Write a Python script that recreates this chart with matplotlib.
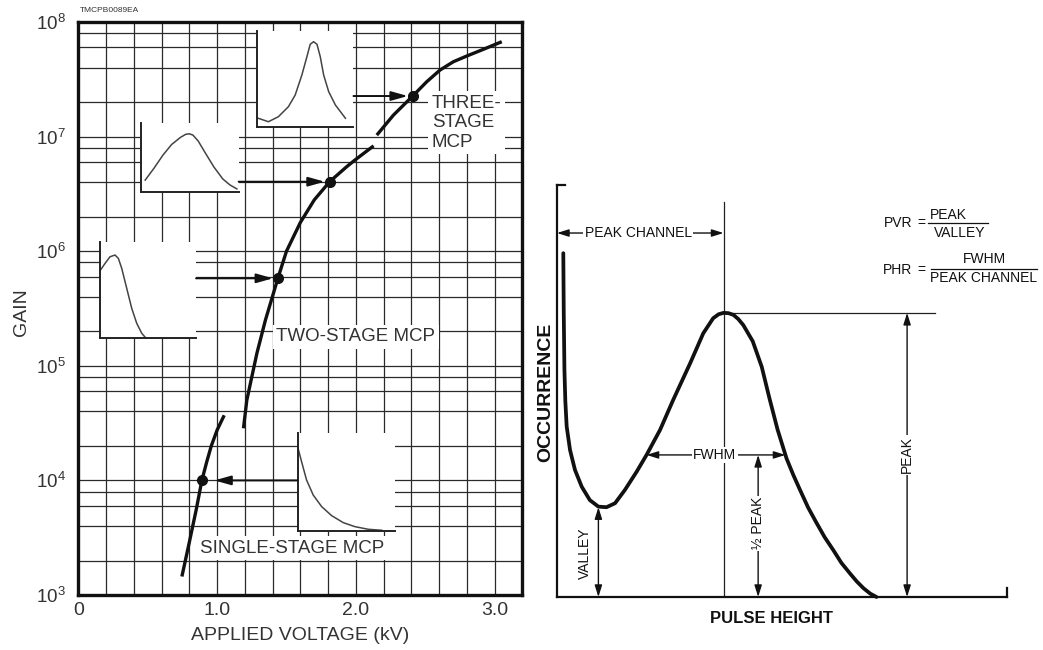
import numpy as np
import matplotlib
matplotlib.use("Agg")
import matplotlib.pyplot as plt
from matplotlib.ticker import FixedLocator, LogLocator, NullFormatter, FuncFormatter

plt.rcParams['font.family'] = ['Liberation Sans', 'DejaVu Sans']
plt.rcParams['mathtext.fontset'] = 'custom'
plt.rcParams['mathtext.rm'] = 'Liberation Sans'

INK = '#111111'
GREY_TXT = '#333333'

# ---------------- gain vs applied voltage ----------------
single_kv = [0.746, 0.80, 0.85, 0.89, 0.925, 0.958, 1.0, 1.051]
single_gain = [1.45e3, 2.9e3, 5.6e3, 1.0e4, 1.45e4, 2.0e4, 2.75e4, 3.7e4]

two_kv = [1.19, 1.214, 1.25, 1.287, 1.348, 1.438, 1.50, 1.60, 1.70, 1.811,
          1.934, 1.994, 2.128]
two_gain = [2.85e4, 5.0e4, 8.0e4, 1.29e5, 2.5e5, 5.8e5, 1.0e6, 1.78e6, 2.8e6,
            4.04e6, 5.46e6, 6.25e6, 8.3e6]

three_kv = [2.151, 2.271, 2.41, 2.511, 2.607, 2.703, 2.80, 2.92, 3.052]
three_gain = [1.03e7, 1.54e7, 2.26e7, 3.01e7, 3.81e7, 4.5e7, 5.05e7, 5.78e7, 6.73e7]

# operating points marked with dots (single, two-stage low, two-stage high, three)
op_kv = [0.89, 1.438, 1.811, 2.41]
op_gain = [1.0e4, 5.8e5, 4.04e6, 2.26e7]

x_ticks = [0, 1, 2, 3]
x_tick_labels = ['0', '1.0', '2.0', '3.0']

# small pulse-height distribution sketches (normalised to their frames)
sketch_three_x = [0.017, 0.121, 0.224, 0.328, 0.398, 0.467, 0.519, 0.553, 0.588,
                  0.623, 0.657, 0.692, 0.744, 0.813, 0.917]
sketch_three_y = [0.088, 0.052, 0.104, 0.209, 0.331, 0.54, 0.731, 0.861, 0.888,
                  0.861, 0.731, 0.54, 0.366, 0.227, 0.088]

sketch_twohi_x = [0.046, 0.136, 0.227, 0.316, 0.406, 0.46, 0.497, 0.533, 0.587,
                  0.659, 0.748, 0.838, 0.91, 0.982]
sketch_twohi_y = [0.172, 0.345, 0.535, 0.69, 0.793, 0.838, 0.845, 0.827, 0.741,
                  0.569, 0.362, 0.189, 0.103, 0.044]

sketch_twolo_x = [0.0, 0.052, 0.104, 0.156, 0.191, 0.226, 0.278, 0.33, 0.382,
                  0.434, 0.479]
sketch_twolo_y = [0.70, 0.775, 0.844, 0.862, 0.827, 0.724, 0.517, 0.31, 0.155,
                  0.052, 0.0]

sketch_single_x = [0.006, 0.041, 0.092, 0.16, 0.247, 0.349, 0.469, 0.589, 0.726,
                   0.863]
sketch_single_y = [0.842, 0.709, 0.522, 0.368, 0.249, 0.157, 0.085, 0.044, 0.017,
                   0.007]

# ---------------- pulse height distribution ----------------
ph_x = [1.4, 1.5, 1.65, 1.85, 2.15, 2.9, 4.0, 5.5, 7.3, 9.2, 11.0, 12.9, 15.1,
        17.7, 19.9, 22.9, 25.8, 29.6, 32.5, 34.7, 35.9, 37.0, 38.1, 39.2, 40.3,
        41.4, 43.5, 45.5, 47.2, 49.0, 51.0, 52.5, 54.0, 55.8, 57.7, 59.5, 61.4,
        63.2, 65.1, 66.6, 68.1, 69.6, 71.0]
ph_y = [121, 100, 80, 69, 60, 51.7, 44.7, 38.8, 34.1, 31.8, 31.6, 33.0, 37.7,
        44.1, 50.0, 58.8, 69.3, 82.3, 92.8, 98.1, 99.5, 100, 99.9, 99.3, 97.8,
        95.7, 90, 81, 70, 59, 48.8, 43, 37.7, 31.5, 26, 21, 16.5, 12, 8.3, 5.5,
        3.1, 1.2, 0]

fig = plt.figure(figsize=(10.43, 6.5), dpi=100)

# ======================= left: gain chart =======================
ax = fig.add_axes([78.4 / 1043, 55 / 650, 443.9 / 1043, 573 / 650])
ax.set_yscale('log')
ax.set_xlim(0, 3.2)
ax.set_ylim(1e3, 1e8)
ax.set_axisbelow(True)

ax.xaxis.set_major_locator(FixedLocator(x_ticks))
ax.set_xticklabels(x_tick_labels)
ax.xaxis.set_minor_locator(FixedLocator(np.arange(0.2, 3.2, 0.2)))
ax.yaxis.set_major_locator(LogLocator(base=10))
ax.yaxis.set_minor_locator(LogLocator(base=10, subs=(2, 4, 6, 8)))
ax.yaxis.set_minor_formatter(NullFormatter())
ax.yaxis.set_major_formatter(
    FuncFormatter(lambda v, _: r'$\mathregular{10^{%d}}$' % round(np.log10(v))))
ax.grid(which='both', color='#2a2a2a', lw=0.9)
ax.tick_params(which='both', length=0)
ax.tick_params(axis='x', labelsize=14, pad=5, labelcolor=GREY_TXT)
ax.tick_params(axis='y', labelsize=13.5, pad=9, labelcolor=GREY_TXT)
for s in ax.spines.values():
    s.set_linewidth(2.4)
    s.set_color(INK)

ax.set_xlabel('APPLIED VOLTAGE (kV)', fontsize=14, color=GREY_TXT, va='center')
ax.xaxis.set_label_coords(0.5, -41 / 573)
ax.set_ylabel('GAIN', fontsize=14, color=GREY_TXT, va='center')
ax.yaxis.set_label_coords(-57 / 443.9, 283 / 573)

curve_kw = dict(color=INK, lw=2.4, solid_capstyle='butt', solid_joinstyle='round',
                zorder=6)
ax.plot(single_kv, single_gain, **curve_kw)
ax.plot(two_kv, two_gain, **curve_kw)
ax.plot(three_kv, three_gain, **curve_kw)
ax.plot(op_kv, op_gain, 'o', color=INK, ms=7, zorder=7)

# sketch frames: (left kV, right kV, bottom gain, top gain)
sketches = [
    ((1.285, 1.983, 1.22e7, 8.35e7), sketch_three_x, sketch_three_y),
    ((0.449, 1.155, 3.29e6, 1.31e7), sketch_twohi_x, sketch_twohi_y),
    ((0.156, 0.848, 1.74e5, 1.21e6), sketch_twolo_x, sketch_twolo_y),
    ((1.58, 2.283, 3.62e3, 2.58e4), sketch_single_x, sketch_single_y),
]
for (x0, x1, y0, y1), sx, sy in sketches:
    ins = ax.inset_axes([x0, y0, x1 - x0, y1 - y0], transform=ax.transData)
    ins.set_facecolor('white')
    ins.set_xlim(0, 1)
    ins.set_ylim(0, 1)
    ins.set_xticks([])
    ins.set_yticks([])
    for s in ('top', 'right'):
        ins.spines[s].set_visible(False)
    for s in ('left', 'bottom'):
        ins.spines[s].set_linewidth(1.4)
        ins.spines[s].set_color('#222222')
    ins.plot(sx, sy, color='#444444', lw=1.1, solid_joinstyle='round',
             clip_on=False)

arrow_kw = dict(arrowstyle='-|>,head_length=1.0,head_width=0.28',
                mutation_scale=10, lw=1.4, color=INK, shrinkA=0)
# arrows from each sketch to its operating point
ax.annotate('', xy=(op_kv[3], op_gain[3]), xytext=(1.983, op_gain[3]),
            arrowprops=dict(shrinkB=3.5, **arrow_kw), zorder=6)
ax.annotate('', xy=(op_kv[2], op_gain[2]), xytext=(1.155, op_gain[2]),
            arrowprops=dict(shrinkB=3.5, **arrow_kw), zorder=6)
ax.annotate('', xy=(op_kv[1], op_gain[1]), xytext=(0.848, op_gain[1]),
            arrowprops=dict(shrinkB=3.5, **arrow_kw), zorder=6)
ax.annotate('', xy=(op_kv[0], op_gain[0]), xytext=(1.58, op_gain[0]),
            arrowprops=dict(shrinkB=9, **arrow_kw), zorder=6)

box = dict(facecolor='white', edgecolor='none', pad=2.5)
ax.text(2.547, 1.32e7, 'THREE-\nSTAGE\nMCP', fontsize=13.5, color=GREY_TXT,
        ha='left', va='center', linespacing=1.2, bbox=box, zorder=5)
ax.text(2.0, 1.79e5, 'TWO-STAGE MCP', fontsize=13.5, color=GREY_TXT,
        ha='center', va='center', bbox=box, zorder=5)
ax.text(1.544, 2.56e3, 'SINGLE-STAGE MCP', fontsize=13.5, color=GREY_TXT,
        ha='center', va='center', bbox=box, zorder=5)

fig.text(80 / 1043, 1 - 10.5 / 650, 'TMCPB0089EA', fontsize=6, color=GREY_TXT,
         ha='left', va='center')

# ======================= right: pulse height distribution =======================
bx = fig.add_axes([557 / 1043, 53 / 650, 450 / 1043, 412 / 650])
bx.set_xlim(0, 100)
bx.set_ylim(0, 145)
bx.set_xticks([])
bx.set_yticks([])
for s in ('top', 'right'):
    bx.spines[s].set_visible(False)
for s in ('left', 'bottom'):
    bx.spines[s].set_linewidth(1.6)
    bx.spines[s].set_color(INK)
bx.plot([0, 1.8], [145, 145], color=INK, lw=1.6, clip_on=False)
bx.plot([100, 100], [0, 3.2], color=INK, lw=1.6, clip_on=False)

bx.plot(ph_x, ph_y, color=INK, lw=2.7, solid_joinstyle='round',
        solid_capstyle='round', zorder=5, clip_on=False)

phx = np.array(ph_x)
phy = np.array(ph_y)
ipk = int(np.argmax(phy[5:])) + 5
peak_x, peak_y = phx[ipk], phy[ipk]
ival = int(np.argmin(phy[:ipk]))
valley_y = phy[ival]
half = peak_y / 2
left_hw = np.interp(half, phy[ival:ipk + 1], phx[ival:ipk + 1])
right_hw = np.interp(half, phy[ipk:][::-1], phx[ipk:][::-1])

thin = dict(color='#222222', lw=0.9)
bx.plot([peak_x, peak_x], [0, 139], **thin)
bx.plot([peak_x, 84], [peak_y, peak_y], **thin)

dbl = dict(arrowstyle='<|-|>,head_length=0.7,head_width=0.22', mutation_scale=10,
           lw=1.0, color=INK, shrinkA=0, shrinkB=0)
wbox = dict(facecolor='white', edgecolor='none', pad=1.0)
tkw = dict(fontsize=10, color=INK)

bx.annotate('', xy=(0, 128.1), xytext=(peak_x, 128.1), arrowprops=dbl)
bx.text(18.1, 128.1, 'PEAK CHANNEL', ha='center', va='center', bbox=wbox, **tkw)

bx.annotate('', xy=(left_hw, half), xytext=(right_hw, half), arrowprops=dbl)
bx.text((left_hw + right_hw) / 2 - 0.3, half, 'FWHM', ha='center', va='center',
        bbox=wbox, **tkw)

bx.annotate('', xy=(44.7, 0), xytext=(44.7, half), arrowprops=dbl)
bx.text(44.7, 26, '\u00bd PEAK', rotation=90, ha='center', va='center',
        bbox=wbox, **tkw)

bx.annotate('', xy=(77.8, 0), xytext=(77.8, peak_y), arrowprops=dbl)
bx.text(77.8, 50, 'PEAK', rotation=90, ha='center', va='center', bbox=wbox, **tkw)

bx.annotate('', xy=(9.2, 0), xytext=(9.2, valley_y), arrowprops=dbl)
bx.text(6.3, 15.5, 'VALLEY', rotation=90, ha='center', va='center', **tkw)

# ratio definitions
bx.text(75.7, 131.6, 'PVR', ha='center', va='center', clip_on=False, **tkw)
bx.text(80.9, 131.6, '=', ha='center', va='center', clip_on=False, **tkw)
bx.plot([82.4, 95.8], [131.5, 131.5], color=INK, lw=0.9, clip_on=False)
bx.text(82.9, 134.6, 'PEAK', ha='left', va='center', clip_on=False, **tkw)
bx.text(89.4, 128.0, 'VALLEY', ha='center', va='center', clip_on=False, **tkw)

bx.text(75.7, 115.1, 'PHR', ha='center', va='center', clip_on=False, **tkw)
bx.text(80.9, 115.1, '=', ha='center', va='center', clip_on=False, **tkw)
bx.plot([83.2, 106.6], [115.5, 115.5], color=INK, lw=0.9, clip_on=False)
bx.text(95.0, 119.0, 'FWHM', ha='center', va='center', clip_on=False, **tkw)
bx.text(94.9, 112.2, 'PEAK CHANNEL', ha='center', va='center', clip_on=False, **tkw)

bx.text(-2.4, 72.2, 'OCCURRENCE', rotation=90, ha='center', va='center',
        fontsize=14, fontweight='bold', color=INK, clip_on=False)
bx.text(47.7, -7.5, 'PULSE HEIGHT', ha='center', va='center',
        fontsize=12, fontweight='bold', color=INK, clip_on=False)

fig.savefig('out.png', dpi=100)
